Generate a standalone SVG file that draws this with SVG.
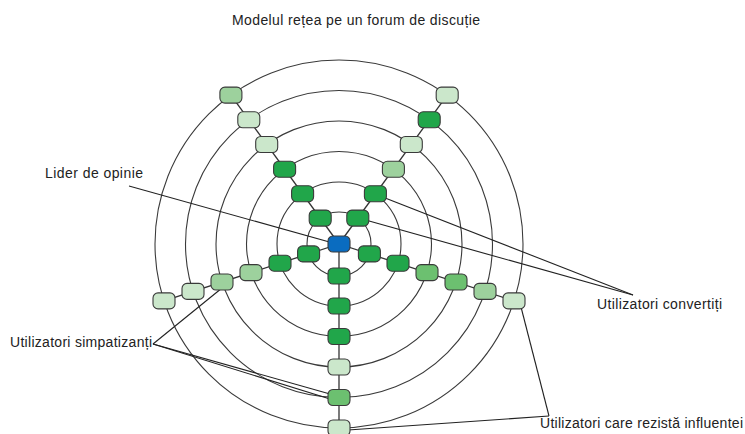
<svg xmlns="http://www.w3.org/2000/svg" width="745" height="434" viewBox="0 0 745 434">
<style>
.ring{fill:none;stroke:#3a3a3a;stroke-width:1.1}
.spoke{stroke:#333;stroke-width:1.3}
.lead{stroke:#222;stroke-width:1.1;fill:none}
.n{stroke:#3a3a3a;stroke-width:1.1}
.dk{fill:#21a64a}
.md{fill:#6cc070}
.ml{fill:#9dd19d}
.pl{fill:#cbe7cb}
.bl{fill:#0a6cc0}
text{font-family:"Liberation Sans",Arial,sans-serif;font-size:14px;fill:#222}
</style>
<defs>
<rect id="nd" x="-11" y="-8" width="22" height="16" rx="5" ry="5"/>
</defs>
<rect width="745" height="434" fill="#fff"/>
<text x="232" y="25" textLength="248" lengthAdjust="spacing">Modelul rețea pe un forum de discuție</text>
<g id="rings">
<circle class="ring" cx="339" cy="244" r="32"/>
<circle class="ring" cx="339" cy="244" r="62"/>
<circle class="ring" cx="339" cy="244" r="92.5"/>
<circle class="ring" cx="339" cy="244" r="123"/>
<circle class="ring" cx="339" cy="244" r="153.5"/>
<circle class="ring" cx="339" cy="244" r="184"/>
</g>
<g id="connectors">
<line class="spoke" x1="339" y1="244" x2="230.9" y2="95.1"/>
<line class="spoke" x1="339" y1="244" x2="447.2" y2="95.1"/>
<line class="spoke" x1="339" y1="244" x2="514" y2="300.9"/>
<line class="spoke" x1="339" y1="244" x2="339" y2="428"/>
<line class="spoke" x1="339" y1="244" x2="164" y2="300.9"/>
<line class="lead" x1="129" y1="186" x2="333" y2="243"/>
<line class="lead" x1="633" y1="295" x2="362" y2="219"/>
<line class="lead" x1="633" y1="295" x2="380" y2="196"/>
<line class="lead" x1="153" y1="344" x2="222" y2="288"/>
<line class="lead" x1="153" y1="344" x2="330" y2="394"/>
<line class="lead" x1="153" y1="344" x2="330" y2="399"/>
<line class="lead" x1="549" y1="416" x2="521" y2="307"/>
<line class="lead" x1="549" y1="416" x2="348" y2="430"/>
</g>
<g id="center"><use href="#nd" class="n bl" x="339" y="244"/></g>
<g id="tl1"><use href="#nd" class="n dk" x="320.2" y="218.1"/></g>
<g id="tl2"><use href="#nd" class="n dk" x="302.6" y="193.8"/></g>
<g id="tl3"><use href="#nd" class="n dk" x="284.6" y="169.2"/></g>
<g id="tl4"><use href="#nd" class="n pl" x="266.7" y="144.5"/></g>
<g id="tl5"><use href="#nd" class="n pl" x="248.8" y="119.8"/></g>
<g id="tl6"><use href="#nd" class="n ml" x="230.9" y="95.1"/></g>
<g id="tr1"><use href="#nd" class="n dk" x="357.8" y="218.1"/></g>
<g id="tr2"><use href="#nd" class="n dk" x="375.4" y="193.8"/></g>
<g id="tr3"><use href="#nd" class="n ml" x="393.4" y="169.2"/></g>
<g id="tr4"><use href="#nd" class="n pl" x="411.3" y="144.5"/></g>
<g id="tr5"><use href="#nd" class="n dk" x="429.2" y="119.8"/></g>
<g id="tr6"><use href="#nd" class="n pl" x="447.2" y="95.1"/></g>
<g id="r1"><use href="#nd" class="n dk" x="369.4" y="253.9"/></g>
<g id="r2"><use href="#nd" class="n dk" x="398" y="263.2"/></g>
<g id="r3"><use href="#nd" class="n md" x="427" y="272.6"/></g>
<g id="r4"><use href="#nd" class="n md" x="456" y="282"/></g>
<g id="r5"><use href="#nd" class="n ml" x="485" y="291.4"/></g>
<g id="r6"><use href="#nd" class="n pl" x="514" y="300.9"/></g>
<g id="b1"><use href="#nd" class="n dk" x="339" y="276"/></g>
<g id="b2"><use href="#nd" class="n dk" x="339" y="306"/></g>
<g id="b3"><use href="#nd" class="n dk" x="339" y="336.5"/></g>
<g id="b4"><use href="#nd" class="n pl" x="339" y="367"/></g>
<g id="b5"><use href="#nd" class="n md" x="339" y="397.5"/></g>
<g id="b6"><use href="#nd" class="n pl" x="339" y="428"/></g>
<g id="l1"><use href="#nd" class="n dk" x="308.6" y="253.9"/></g>
<g id="l2"><use href="#nd" class="n dk" x="280" y="263.2"/></g>
<g id="l3"><use href="#nd" class="n ml" x="251" y="272.6"/></g>
<g id="l4"><use href="#nd" class="n ml" x="222" y="282"/></g>
<g id="l5"><use href="#nd" class="n pl" x="193" y="291.4"/></g>
<g id="l6"><use href="#nd" class="n pl" x="164" y="300.9"/></g>
<g id="labels">
<text x="45" y="178" textLength="98" lengthAdjust="spacing">Lider de opinie</text>
<text x="597" y="309" textLength="125" lengthAdjust="spacing">Utilizatori convertiți</text>
<text x="10" y="347" textLength="142" lengthAdjust="spacing">Utilizatori simpatizanți</text>
<text x="540" y="428" textLength="203" lengthAdjust="spacing">Utilizatori care rezistă influentei</text>
</g>
</svg>
